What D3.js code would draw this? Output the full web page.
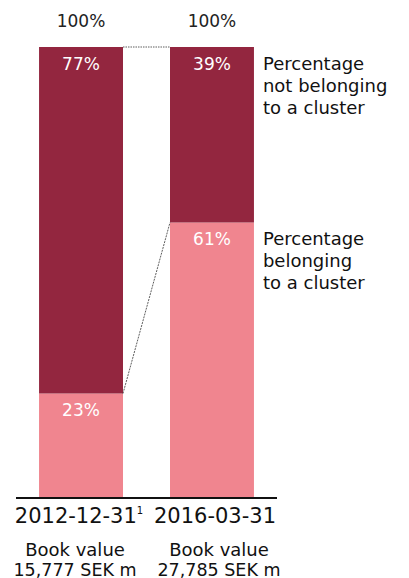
<!DOCTYPE html>
<html>
<head>
<meta charset="utf-8">
<script src="https://cdn.jsdelivr.net/npm/d3@7"></script>
<style>
  body { margin: 0; background: #fff; }
  text { font-family: "DejaVu Sans", sans-serif; }
</style>
</head>
<body>
<svg width="409" height="578"></svg>
<script>
const svg = d3.select('svg');

// data
const dates = ['2012-12-31', '2016-03-31'];
const footnotes = ['1', ''];
const belonging = [23, 61];
const notBelonging = [77, 39];
const bookValues = ['15,777 SEK m', '27,785 SEK m'];
const seriesLabels = [
    ['Percentage', 'not belonging', 'to a cluster'],
    ['Percentage', 'belonging', 'to a cluster']
];

const dark = '#93263f';
const light = '#f0858f';

const xScale = d3.scaleBand()
    .domain(dates)
    .range([16, 277])
    .paddingInner(0.359)
    .paddingOuter(0.176);

const yScale = d3.scaleLinear()
    .domain([0, 100])
    .range([497, 47]);

const bw = xScale.bandwidth();

const rows = dates.map((d, i) => ({
    date: d, lo: belonging[i], hi: notBelonging[i], fn: footnotes[i], book: bookValues[i]
}));

// bottom segment
svg.selectAll('rect.lo').data(rows)
    .enter().append('rect')
    .attr('class', 'lo')
    .attr('x', d => xScale(d.date))
    .attr('width', bw)
    .attr('y', d => yScale(d.lo))
    .attr('height', d => yScale(0) - yScale(d.lo))
    .attr('fill', light);

// top segment
svg.selectAll('rect.hi').data(rows)
    .enter().append('rect')
    .attr('class', 'hi')
    .attr('x', d => xScale(d.date))
    .attr('width', bw)
    .attr('y', d => yScale(d.lo + d.hi))
    .attr('height', d => yScale(d.lo) - yScale(d.lo + d.hi))
    .attr('fill', dark);

// connector lines
const x0 = xScale(dates[0]) + bw;
const x1 = xScale(dates[1]);
svg.append('line')
    .attr('x1', x0).attr('x2', x1)
    .attr('y1', yScale(100)).attr('y2', yScale(100))
    .attr('stroke', '#333').attr('stroke-width', 0.8)
    .attr('stroke-dasharray', '1.5,1');
svg.append('line')
    .attr('x1', x0).attr('x2', x1)
    .attr('y1', yScale(belonging[0])).attr('y2', yScale(belonging[1]))
    .attr('stroke', '#333').attr('stroke-width', 0.8)
    .attr('stroke-dasharray', '2,1');

// baseline
svg.append('line')
    .attr('x1', 16).attr('x2', 277)
    .attr('y1', yScale(0) + 1).attr('y2', yScale(0) + 1)
    .attr('stroke', '#111').attr('stroke-width', 2);

// value labels
svg.selectAll('text.total').data(rows)
    .enter().append('text')
    .attr('x', d => xScale(d.date) + bw / 2)
    .attr('y', 27)
    .attr('text-anchor', 'middle')
    .attr('font-size', 17)
    .attr('fill', '#222')
    .text('100%');

svg.selectAll('text.hiLab').data(rows)
    .enter().append('text')
    .attr('x', d => xScale(d.date) + bw / 2)
    .attr('y', d => yScale(d.lo + d.hi) + 23)
    .attr('text-anchor', 'middle')
    .attr('font-size', 17)
    .attr('fill', '#fff')
    .text(d => d.hi + '%');

svg.selectAll('text.loLab').data(rows)
    .enter().append('text')
    .attr('x', d => xScale(d.date) + bw / 2)
    .attr('y', d => yScale(d.lo) + 22)
    .attr('text-anchor', 'middle')
    .attr('font-size', 17)
    .attr('fill', '#fff')
    .text(d => d.lo + '%');

// date labels
const dateText = svg.selectAll('text.date').data(rows)
    .enter().append('text')
    .attr('x', (d, i) => xScale(d.date) + bw / 2 + (i === 0 ? -2 : 3))
    .attr('y', 523)
    .attr('text-anchor', 'middle')
    .attr('font-size', 21)
    .attr('fill', '#111');
dateText.append('tspan').text(d => d.date);
dateText.append('tspan')
    .attr('font-size', 10)
    .attr('dy', -9)
    .text(d => d.fn);

// book values
const bookX = (d, i) => xScale(d.date) + bw / 2 + (i === 0 ? -6 : 7);
svg.selectAll('text.book1').data(rows)
    .enter().append('text')
    .attr('x', bookX)
    .attr('y', 556)
    .attr('text-anchor', 'middle')
    .attr('font-size', 18)
    .attr('fill', '#111')
    .text('Book value');
svg.selectAll('text.book2').data(rows)
    .enter().append('text')
    .attr('x', bookX)
    .attr('y', 576)
    .attr('text-anchor', 'middle')
    .attr('font-size', 17.5)
    .attr('fill', '#111')
    .text(d => d.book);

// series labels to the right
const lastX = xScale(dates[1]) + bw + 9;
const labelY = [yScale(100) + 23, yScale(belonging[1]) + 22];
seriesLabels.forEach((lines, k) => {
    const t = svg.append('text')
        .attr('x', lastX)
        .attr('y', labelY[k])
        .attr('font-size', 18)
        .attr('fill', '#111');
    lines.forEach((l, j) => {
        t.append('tspan')
            .attr('x', lastX)
            .attr('dy', j === 0 ? 0 : 22)
            .text(l);
    });
});
</script>
</body>
</html>
